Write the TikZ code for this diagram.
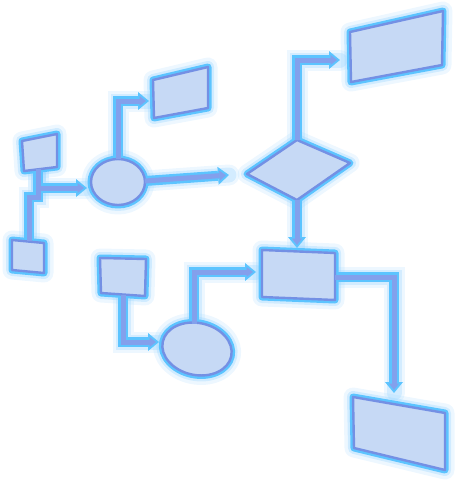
\documentclass[tikz,border=0pt]{standalone}
\usepackage{tikz}
\usetikzlibrary{arrows.meta}

\definecolor{boxfill}{HTML}{C6D9F5}
\definecolor{rimcyan}{HTML}{5CC4FF}
\definecolor{edgeblue}{HTML}{7490E4}
\definecolor{pipeblue}{HTML}{83A0EC}
\definecolor{haze}{HTML}{8FD0FF}

\tikzset{
  haloA-shape/.style={draw=haze, line width=19pt, opacity=0.16, line join=round},
  haloB-shape/.style={draw=haze, line width=12pt, opacity=0.3, line join=round},
  rim-shape/.style={draw=rimcyan, line width=7pt, line join=round},
  core-shape/.style={fill=boxfill, draw=edgeblue, line width=2.4pt, line join=round},
  haloA-pipe/.style={draw=haze, line width=21pt, opacity=0.16, line cap=round},
  haloB-pipe/.style={draw=haze, line width=15pt, opacity=0.28, line cap=round},
  rim-pipe/.style={draw=rimcyan, line width=10pt},
  core-pipe/.style={draw=pipeblue, line width=5pt},
  haloA-tip/.style={},
  haloB-tip/.style={},
  rim-tip/.style={-{Triangle[length=11pt,width=18pt,line width=0pt]}},
  core-tip/.style={-{Triangle[length=6.5pt,width=10pt,line width=0pt]}, shorten >=3pt}
}

\begin{document}
\begin{tikzpicture}[x=1pt,y=1pt,yscale=-1,xscale=1]
        \useasboundingbox (0,0) rectangle (456,480);

        %Shape: Box A
        \coordinate (a1) at (22,141); \coordinate (a2) at (57,134);
        \coordinate (a3) at (57,167); \coordinate (a4) at (24,171);
        \coordinate (aS) at (38,169); \coordinate (aJ) at (38,197);
        %Shape: Box B
        \coordinate (b1) at (12,240); \coordinate (b2) at (44,243);
        \coordinate (b3) at (44,273); \coordinate (b4) at (12,270);
        \coordinate (bN) at (29,241);
        %Shape: Ellipse C
        \coordinate (cC) at (118,182); \coordinate (cN) at (118,159);
        \coordinate (cE) at (145,181); \coordinate (cW) at (87,188);
        \coordinate (cOut) at (229,175);
        %Shape: Box D
        \coordinate (d1) at (153,80); \coordinate (d2) at (208,67);
        \coordinate (d3) at (208,108); \coordinate (d4) at (154,118);
        \coordinate (dW) at (149,101);
        %Shape: Box E
        \coordinate (e1) at (350,32); \coordinate (e2) at (443,11);
        \coordinate (e3) at (442,65); \coordinate (e4) at (351,82);
        \coordinate (eW) at (340,60);
        %Shape: Diamond F
        \coordinate (f1) at (247,174); \coordinate (fN) at (297,140);
        \coordinate (f3) at (350,163); \coordinate (fS) at (297,200);
        %Shape: Box G
        \coordinate (g1) at (262,250); \coordinate (g2) at (335,253);
        \coordinate (g3) at (335,300); \coordinate (g4) at (262,297);
        \coordinate (gN) at (297,248); \coordinate (gE) at (335,277);
        \coordinate (gW) at (256,272);
        %Shape: Box H
        \coordinate (h1) at (100,258); \coordinate (h2) at (146,259);
        \coordinate (h3) at (145,296); \coordinate (h4) at (101,293);
        \coordinate (hS) at (123,295);
        %Shape: Ellipse I
        \coordinate (cI) at (197,349); \coordinate (iW) at (159,342);
        \coordinate (iN) at (194,324);
        %Shape: Box J
        \coordinate (j1) at (353,397); \coordinate (j2) at (445,413);
        \coordinate (j3) at (445,470); \coordinate (j4) at (354,448);
        \coordinate (jN) at (394,393);

        \foreach \lay in {haloA,haloB,rim,core}{
        %Shapes
        \path[\lay-shape] (a1) -- (a2) -- (a3) -- (a4) -- cycle;
        \path[\lay-shape] (b1) -- (b2) -- (b3) -- (b4) -- cycle;
        \path[\lay-shape] (cC) ellipse [x radius=27, y radius=23];
        \path[\lay-shape] (d1) -- (d2) -- (d3) -- (d4) -- cycle;
        \path[\lay-shape] (e1) -- (e2) -- (e3) -- (e4) -- cycle;
        \path[\lay-shape] (f1) -- (fN) -- (f3) -- (fS) -- cycle;
        \path[\lay-shape] (g1) -- (g2) -- (g3) -- (g4) -- cycle;
        \path[\lay-shape] (h1) -- (h2) -- (h3) -- (h4) -- cycle;
        \path[\lay-shape, rotate around={12:(cI)}] (cI) ellipse [x radius=35, y radius=26];
        \path[\lay-shape] (j1) -- (j2) -- (j3) -- (j4) -- cycle;
        %Pipes
        \path[\lay-pipe] (aS) -- (aJ) -| (bN);
        \path[\lay-pipe,\lay-tip] (aS) |- (cW);
        \path[\lay-pipe,\lay-tip] (cN) |- (dW);
        \path[\lay-pipe,\lay-tip] (cE) -- (cOut);
        \path[\lay-pipe,\lay-tip] (fN) |- (eW);
        \path[\lay-pipe,\lay-tip] (fS) -- (gN);
        \path[\lay-pipe,\lay-tip] (hS) |- (iW);
        \path[\lay-pipe,\lay-tip] (iN) |- (gW);
        \path[\lay-pipe,\lay-tip] (gE) -| (jN);
        }
\end{tikzpicture}
\end{document}
